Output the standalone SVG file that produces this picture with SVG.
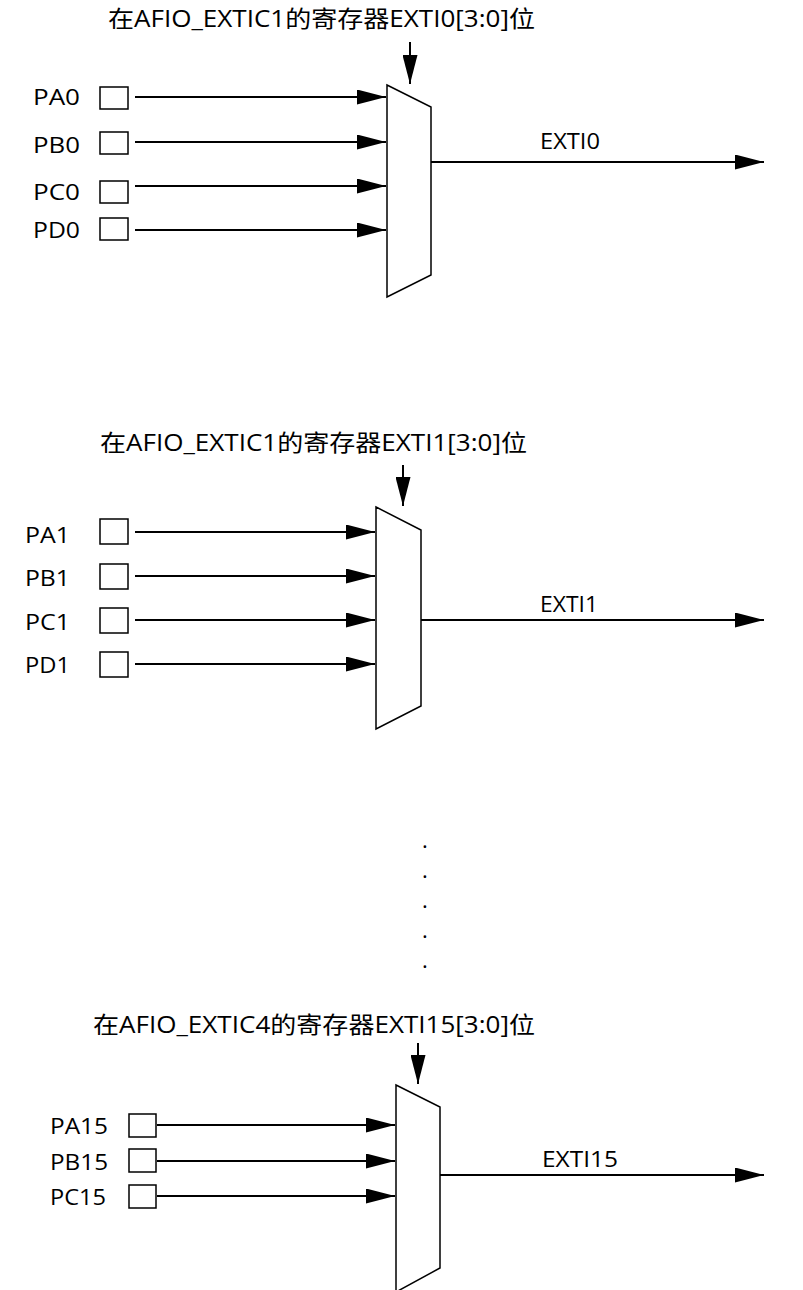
<svg xmlns="http://www.w3.org/2000/svg" width="803" height="1290" viewBox="0 0 803 1290">
<style>
text{font-family:"Open Sans","Noto Sans CJK SC",sans-serif;fill:#000}
.t{font-size:23px}
.l{font-size:21px}
.b{fill:#fff;stroke:#000;stroke-width:1.5}
.w{stroke:#000;stroke-width:2;fill:none;marker-end:url(#a)}
</style>
<defs>
<marker id="a" viewBox="0 0 10 10" refX="10" refY="5" markerWidth="29" markerHeight="15" markerUnits="userSpaceOnUse" orient="auto" preserveAspectRatio="none"><path d="M0,0L10,5L0,10z"/></marker>
</defs>
<rect width="803" height="1290" fill="#fff"/>
<g id="connectors">
<path class="w" d="M410,42V84"/><path class="w" d="M135,97H386"/><path class="w" d="M135,142H386"/><path class="w" d="M135,186H386"/><path class="w" d="M135,230H386"/><path class="w" d="M431,162H764"/>
<path class="w" d="M403,465V506"/><path class="w" d="M135,532H375"/><path class="w" d="M135,576H375"/><path class="w" d="M135,620H375"/><path class="w" d="M135,664H375"/><path class="w" d="M421,620H764"/>
<path class="w" d="M418,1043V1084"/><path class="w" d="M157,1125H395"/><path class="w" d="M157,1161H395"/><path class="w" d="M157,1196H395"/><path class="w" d="M440,1175H764"/>
</g>
<g id="block0">
<text class="t" x="108" y="27" textLength="427" lengthAdjust="spacingAndGlyphs">在AFIO_EXTIC1的寄存器EXTI0[3:0]位</text>
<path class="b" d="M387,85L431,107V275L387,297Z"/>
<rect class="b" x="100" y="87" width="28" height="22"/><text class="l" x="33" y="105" textLength="47" lengthAdjust="spacingAndGlyphs">PA0</text>
<rect class="b" x="100" y="132" width="28" height="22"/><text class="l" x="33" y="153" textLength="47" lengthAdjust="spacingAndGlyphs">PB0</text>
<rect class="b" x="100" y="181" width="28" height="22"/><text class="l" x="33" y="200" textLength="47" lengthAdjust="spacingAndGlyphs">PC0</text>
<rect class="b" x="100" y="218" width="28" height="22"/><text class="l" x="33" y="238" textLength="47" lengthAdjust="spacingAndGlyphs">PD0</text>
<text class="l" x="540" y="149" textLength="60" lengthAdjust="spacingAndGlyphs">EXTI0</text>
</g>
<g id="block1">
<text class="t" x="100" y="451" textLength="427" lengthAdjust="spacingAndGlyphs">在AFIO_EXTIC1的寄存器EXTI1[3:0]位</text>
<path class="b" d="M376,507L421,530V706L376,729Z"/>
<rect class="b" x="100" y="519" width="28" height="25"/><text class="l" x="25" y="543" textLength="45" lengthAdjust="spacingAndGlyphs">PA1</text>
<rect class="b" x="100" y="564" width="28" height="25"/><text class="l" x="25" y="586" textLength="45" lengthAdjust="spacingAndGlyphs">PB1</text>
<rect class="b" x="100" y="608" width="28" height="25"/><text class="l" x="25" y="630" textLength="45" lengthAdjust="spacingAndGlyphs">PC1</text>
<rect class="b" x="100" y="652" width="28" height="25"/><text class="l" x="25" y="673" textLength="45" lengthAdjust="spacingAndGlyphs">PD1</text>
<text class="l" x="540" y="612" textLength="58" lengthAdjust="spacingAndGlyphs">EXTI1</text>
</g>
<g id="dots" font-size="22">
<text x="422" y="848">.</text><text x="422" y="878">.</text><text x="422" y="908">.</text><text x="422" y="938">.</text><text x="422" y="968">.</text>
</g>
<g id="block2">
<text class="t" x="93" y="1033" textLength="442" lengthAdjust="spacingAndGlyphs">在AFIO_EXTIC4的寄存器EXTI15[3:0]位</text>
<path class="b" d="M396,1085L440,1107V1268L396,1292Z"/>
<rect class="b" x="129" y="1114" width="27" height="23"/><text class="l" x="50" y="1134" textLength="58" lengthAdjust="spacingAndGlyphs">PA15</text>
<rect class="b" x="129" y="1149" width="27" height="23"/><text class="l" x="50" y="1170" textLength="58" lengthAdjust="spacingAndGlyphs">PB15</text>
<rect class="b" x="129" y="1185" width="27" height="23"/><text class="l" x="50" y="1205" textLength="56" lengthAdjust="spacingAndGlyphs">PC15</text>
<text class="l" x="542" y="1167" textLength="76" lengthAdjust="spacingAndGlyphs">EXTI15</text>
</g>
</svg>
